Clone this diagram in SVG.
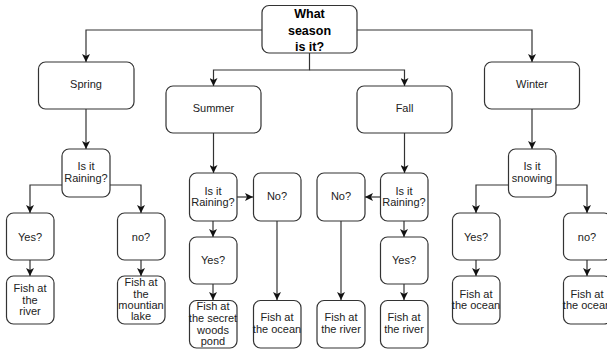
<svg xmlns="http://www.w3.org/2000/svg" width="607" height="349" viewBox="0 0 607 349">
<defs>
<marker id="arr" viewBox="0 0 8 8" refX="8" refY="4" markerWidth="8" markerHeight="8" markerUnits="userSpaceOnUse" orient="auto">
<path d="M0,0 L8,4 L0,8 L2,4 Z" fill="#111"/>
</marker>
</defs>
<style>
.n rect{fill:#fff;stroke:#333;stroke-width:1.2}
.n text{font-family:"Liberation Sans",Arial,sans-serif;font-size:11px;fill:#222;text-anchor:middle}
.b text{font-weight:bold;font-size:12.5px;fill:#000}
#edges path{fill:none;stroke:#333;stroke-width:1.2;marker-end:url(#arr)}
</style>
<rect width="607" height="349" fill="#fff"/>
<g id="edges">
<path d="M262,30 H86 V62"/>
<path d="M309.5,53 V70 H213.5 V86"/>
<path d="M309.5,70 H404.5 V86"/>
<path d="M357,30 H532 V62"/>
<path d="M86,109 V149"/>
<path d="M62,185 H30 V213"/>
<path d="M110,185 H141 V213"/>
<path d="M30,260 V276"/>
<path d="M141,260 V276"/>
<path d="M213.5,133 V173"/>
<path d="M237,197 H253"/>
<path d="M213,221 V237"/>
<path d="M213,284 V300"/>
<path d="M277,221 V300"/>
<path d="M404.5,133 V173"/>
<path d="M380,197 H365"/>
<path d="M341,221 V300"/>
<path d="M404,221 V237"/>
<path d="M404,284 V300"/>
<path d="M532,109 V149"/>
<path d="M508,185 H476 V213"/>
<path d="M556,185 H587 V213"/>
<path d="M476,260 V276"/>
<path d="M587,260 V276"/>
</g>
<g id="root" class="n b"><rect x="262" y="5.5" width="95" height="47.5" rx="7"/><text x="309.5" y="18">What</text><text x="309.5" y="35">season</text><text x="309.5" y="51">is it?</text></g>
<g id="spring" class="n"><rect x="38.5" y="62" width="95.5" height="47" rx="7"/><text x="86" y="88">Spring</text></g>
<g id="summer" class="n"><rect x="166" y="86" width="95" height="47" rx="7"/><text x="213.5" y="112">Summer</text></g>
<g id="fall" class="n"><rect x="357" y="86" width="95" height="47" rx="7"/><text x="404.5" y="112">Fall</text></g>
<g id="winter" class="n"><rect x="484.5" y="62" width="95" height="47" rx="7"/><text x="532" y="88">Winter</text></g>
<g id="spring-rain" class="n"><rect x="62" y="149" width="48" height="48" rx="7"/><text x="86" y="170">Is it</text><text x="86" y="182">Raining?</text></g>
<g id="spring-yes" class="n"><rect x="6.5" y="213" width="47.5" height="47" rx="7"/><text x="30" y="241">Yes?</text></g>
<g id="spring-no" class="n"><rect x="117.5" y="213" width="47.5" height="47" rx="7"/><text x="141" y="241">no?</text></g>
<g id="spring-river" class="n"><rect x="6.5" y="276" width="47.5" height="48" rx="7"/><text x="30" y="292">Fish at</text><text x="30" y="304">the</text><text x="30" y="315">river</text></g>
<g id="spring-lake" class="n"><rect x="117.5" y="276" width="47.5" height="48" rx="7"/><text x="141" y="286">Fish at</text><text x="141" y="298">the</text><text x="141" y="309">mountian</text><text x="141" y="320">lake</text></g>
<g id="summer-rain" class="n"><rect x="189.5" y="173" width="47.5" height="48" rx="7"/><text x="213" y="195">Is it</text><text x="213" y="206">Raining?</text></g>
<g id="summer-no" class="n"><rect x="253.5" y="173" width="47.5" height="48" rx="7"/><text x="277" y="200">No?</text></g>
<g id="summer-yes" class="n"><rect x="189.5" y="237" width="47.5" height="47" rx="7"/><text x="213" y="264">Yes?</text></g>
<g id="summer-pond" class="n"><rect x="189.5" y="300.5" width="47.5" height="47.5" rx="7"/><text x="213" y="310">Fish at</text><text x="213" y="322">the secret</text><text x="213" y="334">woods</text><text x="213" y="345">pond</text></g>
<g id="summer-ocean" class="n"><rect x="253.5" y="300.5" width="47.5" height="47.5" rx="7"/><text x="277" y="321">Fish at</text><text x="277" y="333">the ocean</text></g>
<g id="fall-rain" class="n"><rect x="380.5" y="173" width="47.5" height="48" rx="7"/><text x="404" y="195">Is it</text><text x="404" y="206">Raining?</text></g>
<g id="fall-no" class="n"><rect x="317" y="173" width="48" height="48" rx="7"/><text x="341" y="200">No?</text></g>
<g id="fall-yes" class="n"><rect x="380.5" y="237" width="47.5" height="47" rx="7"/><text x="404" y="264">Yes?</text></g>
<g id="fall-river1" class="n"><rect x="317" y="300.5" width="48" height="47.5" rx="7"/><text x="341" y="321">Fish at</text><text x="341" y="333">the river</text></g>
<g id="fall-river2" class="n"><rect x="380.5" y="300.5" width="47.5" height="47.5" rx="7"/><text x="404" y="321">Fish at</text><text x="404" y="333">the river</text></g>
<g id="winter-snow" class="n"><rect x="508.5" y="149" width="47.5" height="48" rx="7"/><text x="532" y="170">Is it</text><text x="532" y="182">snowing</text></g>
<g id="winter-yes" class="n"><rect x="452.5" y="213" width="47.5" height="47" rx="7"/><text x="476" y="241">Yes?</text></g>
<g id="winter-no" class="n"><rect x="563.5" y="213" width="47.5" height="47" rx="7"/><text x="587" y="241">no?</text></g>
<g id="winter-ocean1" class="n"><rect x="452.5" y="276" width="47.5" height="48" rx="7"/><text x="476" y="298">Fish at</text><text x="476" y="309">the ocean</text></g>
<g id="winter-ocean2" class="n"><rect x="563.5" y="276" width="47.5" height="48" rx="7"/><text x="587" y="298">Fish at</text><text x="587" y="309">the ocean</text></g>
</svg>
